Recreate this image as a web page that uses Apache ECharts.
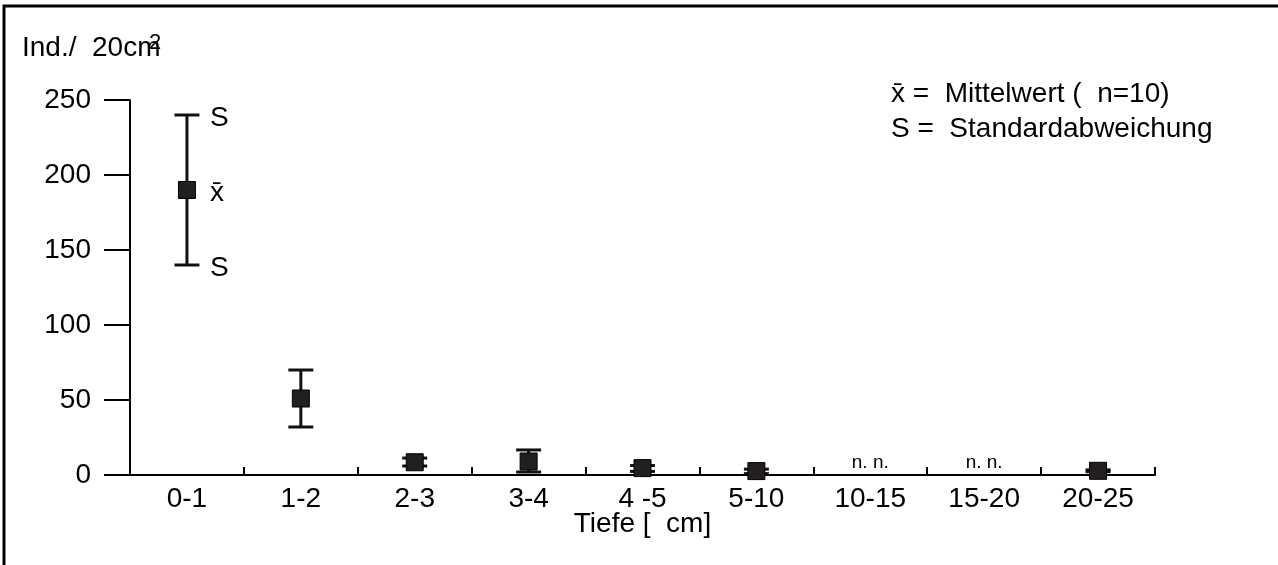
<!DOCTYPE html>
<html><head><meta charset="utf-8">
<script src="https://cdn.jsdelivr.net/npm/echarts@6/dist/echarts.min.js"></script>
<style>html,body{margin:0;padding:0;background:#fff}#c{width:1278px;height:565px}</style>
</head><body><div id="c"></div>
<script>
// ---- data ----
const categories = ['0-1', '1-2', '2-3', '3-4', '4 -5', '5-10', '10-15', '15-20', '20-25'];
const means = [190, 51, 8.5, 9, 4.6, 2.6, null, null, 2.8];
const upper = [240, 70, 11.3, 16.7, 6.3, 3.9, null, null, 3.4];
const lower = [140, 32, 6, 2, 2.4, 0.9, null, null, 2.2];
const notes = ['', '', '', '', '', '', 'n. n.', 'n. n.', ''];
const yTicks = [0, 50, 100, 150, 200, 250];
const annotIndex = 0;

const FONT = '"Liberation Sans", Arial, Helvetica, sans-serif';
const INK = '#000';

const errData = [];
const meanData = [];
const noteData = [];
categories.forEach((c, i) => {
  if (means[i] != null) {
    errData.push([i, upper[i], lower[i]]);
    meanData.push([i, means[i]]);
  }
  if (notes[i]) noteData.push([i, 0, notes[i]]);
});
const annotData = [
  [annotIndex, upper[annotIndex], 'S'],
  [annotIndex, means[annotIndex], 'x\u0304'],
  [annotIndex, lower[annotIndex], 'S']
];

const chart = echarts.init(document.getElementById('c'));
chart.setOption({
  animation: false,
  backgroundColor: '#fff',
  textStyle: { fontFamily: FONT, color: INK },
  grid: { left: 130, right: 123, top: 100, bottom: 90, containLabel: false, outerBoundsMode: 'none' },
  xAxis: {
    type: 'category',
    data: categories,
    boundaryGap: true,
    axisLine: { show: true, lineStyle: { color: INK, width: 2 } },
    axisTick: { show: true, inside: true, length: 8, interval: 0, lineStyle: { color: INK, width: 2 } },
    axisLabel: { interval: 0, fontSize: 28, color: INK, margin: 10, fontFamily: FONT },
    splitLine: { show: false },
    name: 'Tiefe [  cm]',
    nameLocation: 'middle',
    nameGap: 35,
    nameMoveOverlap: false,
    nameTextStyle: { fontSize: 28, color: INK, fontFamily: FONT }
  },
  yAxis: {
    type: 'value',
    min: yTicks[0],
    max: yTicks[yTicks.length - 1],
    interval: yTicks[1] - yTicks[0],
    axisLine: { show: true, lineStyle: { color: INK, width: 2 } },
    axisTick: { show: true, length: 26, lineStyle: { color: INK, width: 2 } },
    axisLabel: { fontSize: 28, color: INK, margin: 39, fontFamily: FONT },
    splitLine: { show: false }
  },
  graphic: [
    { type: 'polyline', shape: { points: [[4, 565], [4, 6], [1278, 6]] }, style: { stroke: INK, lineWidth: 3, fill: null } },
    { type: 'text', x: 22, y: 48, style: { text: 'Ind./  20cm', fontSize: 28, fontFamily: FONT, fill: INK, verticalAlign: 'middle' } },
    { type: 'text', x: 149, y: 43, style: { text: '2', fontSize: 22, fontFamily: FONT, fill: INK, verticalAlign: 'middle' } },
    { type: 'text', x: 891, y: 94, style: { text: 'x\u0304 =  Mittelwert (  n=10)', fontSize: 28, fontFamily: FONT, fill: INK, verticalAlign: 'middle' } },
    { type: 'text', x: 891, y: 129, style: { text: 'S =  Standardabweichung', fontSize: 28, fontFamily: FONT, fill: INK, verticalAlign: 'middle' } }
  ],
  series: [
    {
      type: 'custom',
      name: 'sd',
      data: errData,
      encode: { x: 0, y: [1, 2] },
      z: 2,
      renderItem: function (params, api) {
        const i = api.value(0);
        const hi = api.coord([i, api.value(1)]);
        const lo = api.coord([i, api.value(2)]);
        const half = 12.5;
        const st = { stroke: '#111', lineWidth: 3 };
        return {
          type: 'group',
          children: [
            { type: 'line', shape: { x1: hi[0], y1: hi[1], x2: lo[0], y2: lo[1] }, style: st },
            { type: 'line', shape: { x1: hi[0] - half, y1: hi[1], x2: hi[0] + half, y2: hi[1] }, style: st },
            { type: 'line', shape: { x1: lo[0] - half, y1: lo[1], x2: lo[0] + half, y2: lo[1] }, style: st }
          ]
        };
      }
    },
    {
      type: 'scatter',
      name: 'mean',
      data: meanData,
      symbol: 'rect',
      symbolSize: 17,
      z: 3,
      itemStyle: { color: '#231f20', borderColor: '#000', borderWidth: 1, opacity: 1 }
    },
    {
      type: 'custom',
      name: 'notes',
      data: noteData,
      encode: { x: 0, y: 1 },
      z: 4,
      renderItem: function (params, api) {
        const p = api.coord([api.value(0), api.value(1)]);
        return {
          type: 'text', x: p[0], y: p[1] - 12,
          style: { text: noteData[params.dataIndex][2], fontSize: 19, fontFamily: FONT, fill: INK, align: 'center', verticalAlign: 'middle' }
        };
      }
    },
    {
      type: 'custom',
      name: 'annot',
      data: annotData,
      encode: { x: 0, y: 1 },
      z: 4,
      renderItem: function (params, api) {
        const p = api.coord([api.value(0), api.value(1)]);
        return {
          type: 'text', x: p[0] + 23, y: p[1] + 3,
          style: { text: annotData[params.dataIndex][2], fontSize: 28, fontFamily: FONT, fill: INK, align: 'left', verticalAlign: 'middle' }
        };
      }
    }
  ]
});
</script>
</body></html>
